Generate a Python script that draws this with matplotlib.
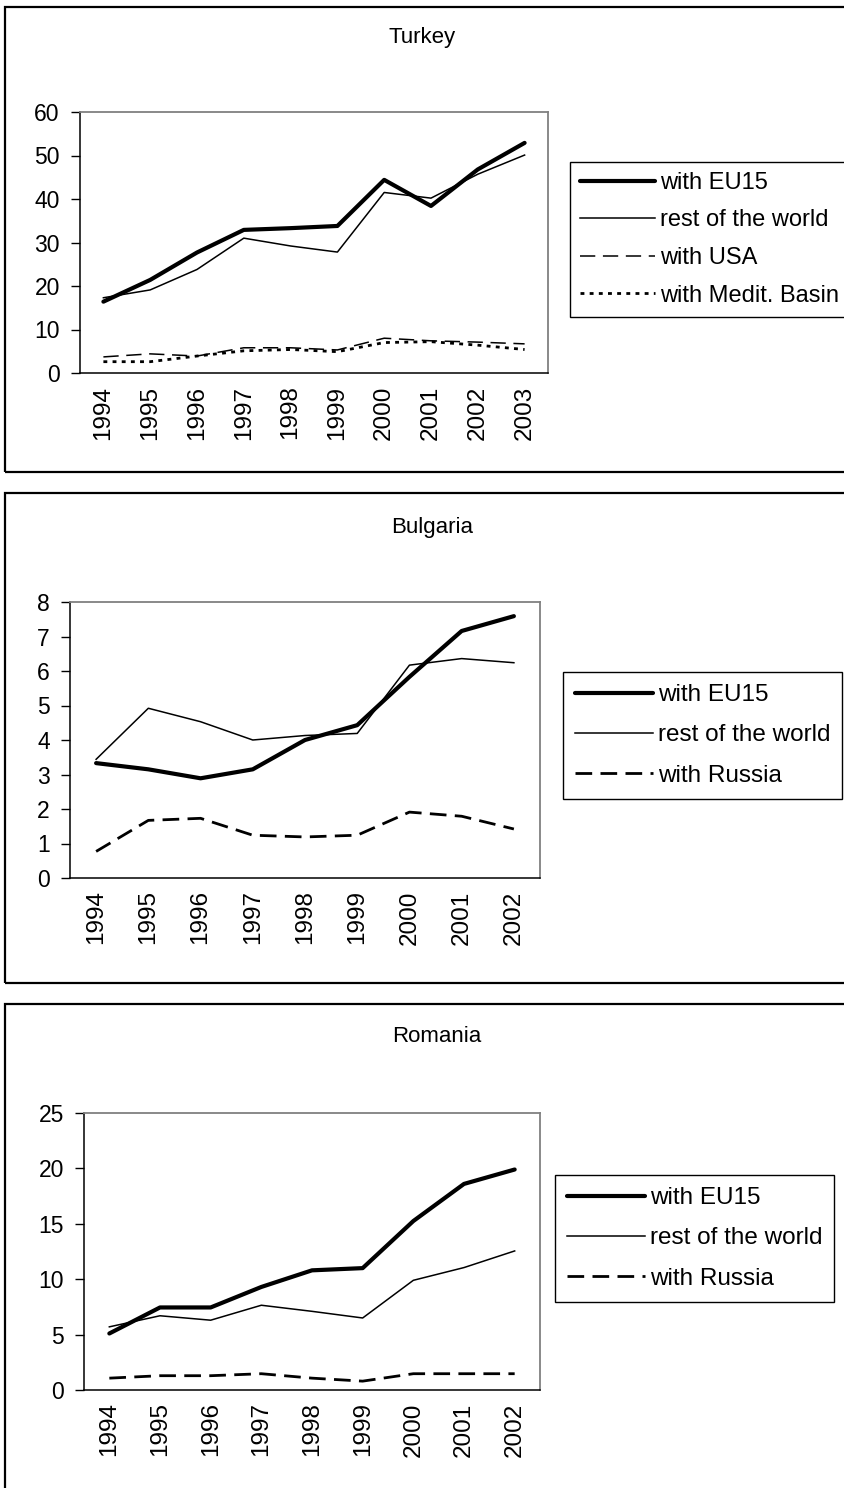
import matplotlib
matplotlib.use("Agg")
import matplotlib.pyplot as plt
from matplotlib.patches import Rectangle

plt.rcParams['font.family'] = ['Liberation Sans', 'DejaVu Sans']

# ---- data ----
years_tr = ["1994", "1995", "1996", "1997", "1998", "1999", "2000", "2001", "2002", "2003"]
tr_eu15 = [16.4, 21.4, 27.7, 32.9, 33.3, 33.8, 44.4, 38.4, 46.8, 52.9]
tr_rest = [17.3, 19.1, 23.8, 31.0, 29.2, 27.8, 41.5, 40.2, 45.7, 50.1]
tr_usa = [3.7, 4.4, 3.9, 5.8, 5.8, 5.3, 8.0, 7.4, 7.1, 6.7]
tr_med = [2.6, 2.6, 3.9, 5.1, 5.4, 4.9, 7.0, 7.2, 6.4, 5.4]

years_bg = ["1994", "1995", "1996", "1997", "1998", "1999", "2000", "2001", "2002"]
bg_eu15 = [3.33, 3.15, 2.89, 3.15, 4.0, 4.43, 5.83, 7.16, 7.59]
bg_rest = [3.44, 4.92, 4.53, 4.0, 4.13, 4.19, 6.17, 6.36, 6.24]
bg_rus = [0.77, 1.67, 1.73, 1.24, 1.19, 1.24, 1.91, 1.79, 1.42]

years_ro = ["1994", "1995", "1996", "1997", "1998", "1999", "2000", "2001", "2002"]
ro_eu15 = [5.1, 7.45, 7.45, 9.3, 10.8, 11.0, 15.25, 18.6, 19.9]
ro_rest = [5.7, 6.7, 6.3, 7.65, 7.1, 6.5, 9.9, 11.05, 12.55]
ro_rus = [1.07, 1.29, 1.29, 1.47, 1.07, 0.8, 1.47, 1.47, 1.47]

W, H = 845, 1488
fig = plt.figure(figsize=(W / 100, H / 100), dpi=100)
fig.patch.set_facecolor("white")


def px_axes(x0, y0, x1, y1):
    return fig.add_axes([x0 / W, 1 - y1 / H, (x1 - x0) / W, (y1 - y0) / H])


def panel(y0, y1):
    fig.add_artist(Rectangle((5 / W, 1 - y1 / H), (W + 20 - 5) / W, (y1 - y0) / H,
                             transform=fig.transFigure, fill=False,
                             edgecolor="black", linewidth=1.6, clip_on=False))


STYLE = {
    "eu15": dict(color="black", lw=3.0, solid_capstyle="round"),
    "rest": dict(color="black", lw=1.1),
    "usa": dict(color="black", lw=1.1, dashes=(10, 5)),
    "med": dict(color="black", lw=2.0, dashes=(1.4, 1.9)),
    "rus": dict(color="black", lw=2.0, dashes=(6, 3)),
}


def style_axes(ax, labels, ymax, ystep):
    n = len(labels)
    ax.set_xlim(-0.5, n - 0.5)
    ax.set_ylim(0, ymax)
    ax.set_yticks(range(0, ymax + 1, ystep))
    ax.set_xticks(range(n))
    ax.set_xticklabels(labels, rotation=90, fontsize=17.5)
    ax.tick_params(axis="x", length=0, pad=9)
    ax.tick_params(axis="y", length=6.5, width=1, direction="out", pad=8, labelsize=16.5)
    for s in ("top", "right"):
        ax.spines[s].set_color("#808080")
        ax.spines[s].set_linewidth(1.3)
    for s in ("left", "bottom"):
        ax.spines[s].set_color("black")
        ax.spines[s].set_linewidth(1.1)


def add_legend(handles, labels, x, y, spacing, pad, size):
    leg = fig.legend(handles, labels, loc="upper left",
                     bbox_to_anchor=(x / W, 1 - y / H), bbox_transform=fig.transFigure,
                     fontsize=size, frameon=True, fancybox=False, framealpha=1,
                     edgecolor="black", handlelength=3.2, handletextpad=0.2,
                     borderpad=pad, labelspacing=spacing, borderaxespad=0)
    leg.get_frame().set_linewidth(1.0)
    return leg


# ---- Turkey ----
panel(7, 472)
fig.text(422 / W, 1 - 37 / H, "Turkey", ha="center", va="center", fontsize=16)
ax1 = px_axes(80, 112, 548, 373)
x = range(len(years_tr))
l1, = ax1.plot(x, tr_eu15, **STYLE["eu15"])
l2, = ax1.plot(x, tr_rest, **STYLE["rest"])
l3, = ax1.plot(x, tr_usa, **STYLE["usa"])
l4, = ax1.plot(x, tr_med, **STYLE["med"])
style_axes(ax1, years_tr, 60, 10)
add_legend([l1, l2, l3, l4],
           ["with EU15", "rest of the world", "with USA", "with Medit. Basin"],
           570, 162, 0.66, 0.42, 17)

# ---- Bulgaria ----
panel(493, 983)
fig.text(432 / W, 1 - 528 / H, "Bulgaria", ha="center", va="center", fontsize=16)
ax2 = px_axes(70, 602, 540, 878)
x = range(len(years_bg))
b1, = ax2.plot(x, bg_eu15, **STYLE["eu15"])
b2, = ax2.plot(x, bg_rest, **STYLE["rest"])
b3, = ax2.plot(x, bg_rus, **STYLE["rus"])
style_axes(ax2, years_bg, 8, 1)
add_legend([b1, b2, b3], ["with EU15", "rest of the world", "with Russia"],
           563, 672, 0.75, 0.5, 17.5)

# ---- Romania ----
panel(1004, H + 20)
fig.text(437 / W, 1 - 1037 / H, "Romania", ha="center", va="center", fontsize=16)
ax3 = px_axes(84, 1113, 540, 1390)
x = range(len(years_ro))
r1, = ax3.plot(x, ro_eu15, **STYLE["eu15"])
r2, = ax3.plot(x, ro_rest, **STYLE["rest"])
r3, = ax3.plot(x, ro_rus, **STYLE["rus"])
style_axes(ax3, years_ro, 25, 5)
add_legend([r1, r2, r3], ["with EU15", "rest of the world", "with Russia"],
           555, 1175, 0.75, 0.5, 17.5)

fig.savefig("out.png", dpi=100, facecolor="white")
